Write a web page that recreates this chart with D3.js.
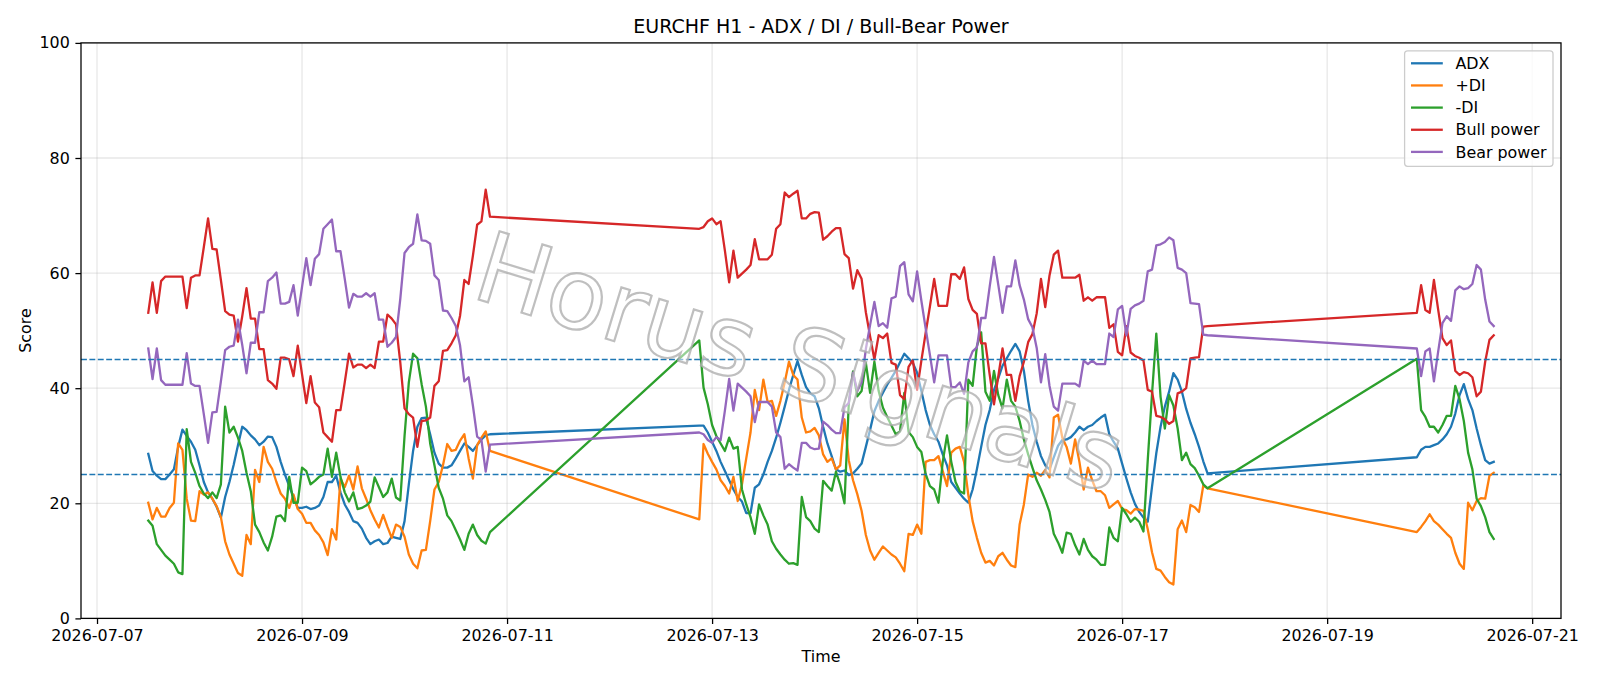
<!DOCTYPE html>
<html>
<head>
<meta charset="utf-8">
<script src="https://cdn.jsdelivr.net/npm/d3@7"></script>
<style>
  body { margin: 0; background: #fff; }
  svg { font-family: "DejaVu Sans", sans-serif; }
</style>
</head>
<body>
<svg id="chart" width="1600" height="686"></svg>
<script>
// EURCHF H1 - ADX / DI / Bull-Bear power, hourly bars in three market sessions

// --- data ---
const segStarts = ["2026-07-07T12:00:00Z", "2026-07-12T21:00:00Z", "2026-07-19T21:00:00Z"];

const adx1 = [28.6,25.6,24.8,24.2,24.2,25.0,25.9,29.8,32.8,31.7,
  30.7,29.3,26.6,23.7,21.9,20.8,19.4,17.5,21.1,23.7,
  26.7,30.1,33.3,32.7,31.8,31.1,30.1,30.7,31.6,31.5,
  29.8,27.2,25.0,23.0,21.1,19.2,19.2,19.4,19.0,19.2,
  19.6,21.1,23.7,23.7,24.8,21.9,19.8,18.5,16.9,16.6,
  15.6,14.0,12.9,13.4,13.7,12.9,13.1,14.2,14.0,13.8,
  16.9,23.3,29.1,33.3,34.8,34.9,32.0,28.8,26.9,26.2,
  26.2,26.6,27.8,29.1,30.4,29.8,29.1,30.1,31.1,31.8,
  32.0];
const adx2 = [33.5,33.5,32.3,30.7,29.1,27.2,25.6,24.0,22.4,21.1,
  20.3,18.3,18.3,22.7,23.3,25.0,27.2,29.1,31.4,34.0,
  36.8,39.7,42.3,44.7,42.3,40.2,39.1,38.6,36.5,33.3,
  30.4,28.2,25.9,25.5,25.7,24.9,25.2,26.0,26.9,29.8,
  32.8,36.0,37.8,39.2,40.6,41.8,43.0,44.5,46.0,45.2,
  44.4,42.7,39.5,36.2,33.6,32.0,30.7,28.5,26.6,23.7,
  22.7,21.7,20.8,20.1,22.4,25.9,29.8,33.6,36.2,39.7,
  41.7,43.9,45.2,46.5,47.7,46.4,43.0,37.8,33.6,30.7,
  28.2,26.6,25.9,28.0,30.0,31.0,31.1,31.5,32.3,33.3,
  32.7,33.3,33.6,34.3,34.9,35.4,32.0,30.7,29.5,26.9,
  24.3,21.9,19.9,18.5,17.5,16.8,22.9,28.7,33.3,36.8,
  39.4,42.6,41.5,39.4,36.4,34.0,32.0,29.8,27.3,25.2];
const adx3 = [28.0,29.3,29.8,29.8,30.1,30.4,31.1,32.0,33.3,35.6,
  38.8,40.7,38.1,36.2,33.0,30.1,27.5,26.9,27.2];

const pdi1 = [20.1,17.2,19.2,17.7,17.7,19.2,20.1,30.4,29.3,20.8,
  17.0,16.9,22.1,21.5,21.9,20.8,19.5,17.6,13.4,11.1,
  9.5,7.9,7.4,14.5,12.9,25.8,23.7,29.8,27.2,26.0,
  23.7,21.7,20.8,19.2,21.5,19.0,18.2,16.6,16.6,15.3,
  14.5,13.2,11.0,15.5,13.7,24.3,22.8,24.8,22.4,26.4,
  22.6,20.8,18.8,17.2,15.8,18.0,15.9,14.0,16.3,15.9,
  14.2,11.1,9.5,8.7,11.8,11.9,16.9,22.4,23.7,26.6,
  30.3,29.1,29.3,30.9,32.0,27.8,24.3,30.1,31.4,32.5,
  29.1];
const pdi2 = [17.2,30.3,28.6,27.2,25.9,24.0,23.0,21.7,24.6,20.4,
  23.3,27.8,32.3,39.7,36.2,41.5,37.6,37.8,35.2,37.8,
  41.0,44.6,42.3,41.5,34.9,32.3,32.5,33.1,31.8,28.5,
  27.2,27.8,25.9,26.6,34.6,27.5,24.0,21.6,18.7,14.5,
  11.8,10.2,11.4,12.5,11.8,11.1,10.6,9.5,8.2,14.7,
  14.5,16.3,14.7,27.2,27.5,27.5,28.2,25.6,23.0,28.8,
  29.5,29.8,27.2,21.4,16.9,14.0,11.4,9.7,10.0,9.2,
  10.8,11.4,10.2,9.2,8.9,16.3,19.8,25.0,24.6,25.3,
  24.8,25.8,24.5,34.9,35.4,31.4,29.8,26.9,31.1,27.2,
  22.4,26.2,24.0,22.1,22.1,21.4,19.2,19.8,20.4,19.0,
  18.8,18.2,19.0,18.9,18.7,15.5,11.5,8.6,8.3,7.2,
  6.3,5.9,15.5,17.0,15.0,19.7,19.3,18.5,23.1,22.6];
const pdi3 = [15.0,15.9,16.9,18.1,16.9,16.3,15.5,14.7,14.0,11.4,
  9.5,8.6,20.1,18.8,20.4,20.9,20.8,24.8,25.3];

const mdi1 = [17.0,16.1,12.9,11.9,10.9,10.2,9.5,8.0,7.7,32.9,
  27.2,25.3,23.0,21.7,20.9,21.9,20.9,23.3,36.8,32.3,
  33.3,31.4,29.1,25.3,22.1,16.3,15.0,13.2,11.8,14.2,
  17.7,17.9,16.9,24.6,20.1,20.1,26.2,25.6,23.3,23.9,
  24.6,25.0,29.5,24.6,28.8,24.6,21.9,20.3,21.9,19.0,
  19.2,19.6,20.3,24.5,22.8,21.1,21.9,24.3,21.0,20.5,
  31.7,41.0,46.0,45.2,40.7,36.8,30.4,26.6,22.7,20.8,
  17.9,16.9,15.3,13.7,11.9,14.7,16.3,14.5,13.5,13.0,
  15.0];
const mdi2 = [48.3,40.1,37.2,33.6,31.7,30.4,29.1,31.4,29.5,29.8,
  22.4,19.8,17.6,14.7,19.8,17.9,16.3,13.4,12.1,11.1,
  10.2,9.5,9.6,9.3,21.1,17.6,16.9,15.6,15.0,23.9,
  23.0,22.2,25.5,23.2,20.0,37.3,42.9,38.6,39.5,44.4,
  39.2,44.6,39.5,36.6,35.0,33.5,32.0,32.5,39.2,32.4,
  31.5,29.8,28.9,25.1,23.0,22.4,20.1,27.2,31.8,27.2,
  23.7,22.1,21.7,41.5,40.4,47.3,49.7,39.4,37.8,43.0,
  38.8,36.5,41.5,37.8,36.8,34.3,31.1,28.5,26.2,24.0,
  22.4,20.6,18.5,14.7,13.2,11.4,14.9,14.7,12.7,11.1,
  13.8,11.9,10.8,10.2,9.3,9.3,15.8,14.0,13.4,19.2,
  18.1,16.8,17.5,16.8,15.1,27.5,39.0,49.5,38.5,33.0,
  38.8,37.0,33.0,27.5,28.8,26.8,26.1,24.8,23.3,22.6];
const mdi3 = [45.1,36.2,35.0,33.3,33.3,32.3,33.6,35.2,35.2,40.4,
  38.1,34.3,28.8,25.9,20.8,19.5,17.6,15.0,13.8];

const bull1 = [53.1,58.4,53.1,58.6,59.4,59.4,59.4,59.4,59.4,53.9,
  59.2,59.6,59.6,64.5,69.5,64.2,64.1,58.8,53.4,52.8,
  52.6,48.1,52.5,57.4,52.1,52.1,46.8,46.8,41.4,40.8,
  39.9,45.3,45.3,45.0,42.1,47.4,42.4,37.4,42.1,37.5,
  36.7,32.3,31.5,30.7,36.2,36.2,41.0,46.0,43.6,44.1,
  44.1,43.5,44.1,43.5,48.1,48.1,52.8,52.1,51.1,44.5,
  36.5,35.5,34.9,29.8,34.3,34.4,34.9,40.4,41.2,46.5,
  46.6,47.8,49.2,52.6,58.8,58.1,63.0,68.4,69.0,74.5,
  69.8];
const bull2 = [67.7,68.0,69.0,69.5,68.5,69.0,63.9,58.4,63.9,59.2,
  59.9,60.6,61.4,65.9,62.4,62.4,62.4,63.2,67.7,68.5,
  74.0,73.2,73.8,74.3,69.5,69.5,70.3,70.6,70.5,65.8,
  66.4,67.2,67.8,67.8,63.3,62.6,57.3,60.5,59.0,53.2,
  49.0,45.0,49.2,48.7,49.5,44.4,44.1,38.8,38.1,43.7,
  44.9,39.7,44.8,49.6,54.2,59.0,54.3,54.3,54.3,59.8,
  59.8,59.0,61.0,55.5,53.6,52.9,47.8,47.8,42.3,37.2,
  42.0,46.9,42.3,42.3,37.8,42.1,44.6,48.0,49.4,53.0,
  59.0,54.1,59.6,63.2,63.9,59.2,59.2,59.2,59.2,59.7,
  55.2,55.8,55.2,55.8,55.8,55.8,50.5,51.1,46.3,45.7,
  50.8,46.2,45.6,45.3,44.8,39.7,39.4,35.2,35.0,34.6,
  33.8,34.3,39.1,39.4,40.0,45.2,45.3,45.4,50.7,50.8];
const bull3 = [53.1,57.9,53.6,53.1,58.8,53.6,48.7,47.5,48.3,43.0,
  42.3,42.8,42.6,41.9,38.6,39.4,44.6,48.4,49.2];

const bear1 = [46.9,41.6,46.9,41.4,40.6,40.6,40.6,40.6,40.6,46.1,
  40.8,40.4,40.4,35.5,30.5,35.8,35.9,41.2,46.6,47.2,
  47.4,51.9,47.5,42.6,47.9,47.9,53.2,53.2,58.6,59.2,
  60.1,54.7,54.7,55.0,57.9,52.6,57.6,62.6,57.9,62.5,
  63.3,67.7,68.5,69.3,63.8,63.8,59.0,54.0,56.4,55.9,
  55.9,56.5,55.9,56.5,51.9,51.9,47.2,47.9,48.9,55.5,
  63.5,64.5,65.1,70.2,65.7,65.6,65.1,59.6,58.8,53.5,
  53.4,52.2,50.8,47.4,41.2,41.9,37.0,31.6,31.0,25.5,
  30.2];
const bear2 = [32.3,32.0,31.0,30.5,31.5,31.0,36.1,41.6,36.1,40.8,
  40.1,39.4,38.6,34.1,37.6,37.6,37.6,36.8,32.3,31.5,
  26.0,26.8,26.2,25.7,30.5,30.5,29.7,29.4,29.5,34.2,
  33.6,32.8,32.2,32.2,36.7,37.4,42.7,39.5,41.0,46.8,
  51.0,55.0,50.8,51.3,50.5,55.6,55.9,61.2,61.9,56.3,
  55.1,60.3,55.2,50.4,45.8,41.0,45.7,45.7,45.7,40.2,
  40.2,41.0,39.0,44.5,46.4,47.1,52.2,52.2,57.7,62.8,
  58.0,53.1,57.7,57.7,62.2,57.9,55.4,52.0,50.6,47.0,
  41.0,45.9,40.4,36.8,36.1,40.8,40.8,40.8,40.8,40.3,
  44.8,44.2,44.8,44.2,44.2,44.2,49.5,48.9,53.7,54.3,
  49.2,53.8,54.4,54.7,55.2,60.3,60.6,64.8,65.0,65.4,
  66.2,65.7,60.9,60.6,60.0,54.8,54.7,54.6,49.3,49.2];
const bear3 = [46.9,42.1,46.4,46.9,41.2,46.4,51.3,52.5,51.7,57.0,
  57.7,57.2,57.4,58.1,61.4,60.6,55.4,51.6,50.8];

const seriesNames = ["ADX", "+DI", "-DI", "Bull power", "Bear power"];
const seriesColors = ["#1f77b4", "#ff7f0e", "#2ca02c", "#d62728", "#9467bd"];
const levels = [25, 45];
const yTicks = [0, 20, 40, 60, 80, 100];
const xTickDates = ["2026-07-07", "2026-07-09", "2026-07-11", "2026-07-13",
  "2026-07-15", "2026-07-17", "2026-07-19", "2026-07-21"];

// --- build time axis from session starts (one bar per hour) ---
function hours(start, n) {
  const t0 = new Date(start).getTime();
  return d3.range(n).map(k => new Date(t0 + k * 3600e3));
}
const times = [].concat(
  hours(segStarts[0], adx1.length),
  hours(segStarts[1], adx2.length),
  hours(segStarts[2], adx3.length)
);
const allSeries = [
  adx1.concat(adx2, adx3),
  pdi1.concat(pdi2, pdi3),
  mdi1.concat(mdi2, mdi3),
  bull1.concat(bull2, bull3),
  bear1.concat(bear2, bear3)
];

// --- layout ---
const svg = d3.select("#chart");
const plot = {left: 81, right: 1561, top: 42.9, bottom: 618.4};

const tExt = d3.extent(times);
const pad = (tExt[1] - tExt[0]) * 0.05;
const x = d3.scaleUtc()
  .domain([new Date(+tExt[0] - pad), new Date(+tExt[1] + pad)])
  .range([plot.left, plot.right]);
const y = d3.scaleLinear().domain([0, 100]).range([plot.bottom, plot.top]);
const xTicks = xTickDates.map(s => new Date(s + "T00:00:00Z"));

// grid
const grid = svg.append("g");
grid.selectAll(".gx").data(xTicks).enter().append("line")
  .attr("x1", d => x(d)).attr("x2", d => x(d))
  .attr("y1", plot.top).attr("y2", plot.bottom)
  .attr("stroke", "#b0b0b0").attr("stroke-opacity", 0.3).attr("stroke-width", 1.27);
grid.selectAll(".gy").data(yTicks).enter().append("line")
  .attr("x1", plot.left).attr("x2", plot.right)
  .attr("y1", d => y(d)).attr("y2", d => y(d))
  .attr("stroke", "#b0b0b0").attr("stroke-opacity", 0.3).attr("stroke-width", 1.27);

// clip for the data
svg.append("clipPath").attr("id", "clip").append("rect")
  .attr("x", plot.left).attr("y", plot.top)
  .attr("width", plot.right - plot.left).attr("height", plot.bottom - plot.top);

const line = d3.line().x((d, i) => x(times[i])).y(d => y(d));
const lines = svg.append("g").attr("clip-path", "url(#clip)");
allSeries.forEach((vals, si) => {
  lines.append("path")
    .datum(vals)
    .attr("fill", "none")
    .attr("stroke", seriesColors[si])
    .attr("stroke-width", 2.3)
    .attr("stroke-linejoin", "round")
    .attr("stroke-linecap", "square")
    .attr("d", line);
});

// reference levels
lines.selectAll(".lvl").data(levels).enter().append("line")
  .attr("x1", plot.left).attr("x2", plot.right)
  .attr("y1", d => y(d)).attr("y2", d => y(d))
  .attr("stroke", "#1f77b4").attr("stroke-width", 1.6)
  .attr("stroke-dasharray", "5.9,2.5");

// watermark (hollow grey letters running down to the right)
svg.append("text")
  .attr("transform", "translate(800,362) rotate(17)")
  .attr("text-anchor", "middle")
  .attr("dy", "0.35em")
  .attr("font-size", 98)
  .attr("fill", "#ffffff").attr("fill-opacity", 0.5)
  .attr("stroke", "#aaaaaa").attr("stroke-opacity", 0.75).attr("stroke-width", 2.2)
  .text("Horus Signals");

// axes
const fs = "15.9px";
const gx = svg.append("g").attr("transform", `translate(0,${plot.bottom})`)
  .call(d3.axisBottom(x).tickValues(xTicks).tickFormat(d3.utcFormat("%Y-%m-%d"))
    .tickSize(5.6).tickPadding(5.6).tickSizeOuter(0));
const gy = svg.append("g").attr("transform", `translate(${plot.left},0)`)
  .call(d3.axisLeft(y).tickValues(yTicks).tickSize(5.6).tickPadding(5.6).tickSizeOuter(0));
[gx, gy].forEach(g => {
  g.select(".domain").remove();
  g.selectAll(".tick line").attr("stroke", "#000").attr("stroke-width", 1.27);
  g.selectAll(".tick text").attr("fill", "#000")
    .style("font-size", fs).style("font-family", "DejaVu Sans");
});

// spines
svg.append("rect")
  .attr("x", plot.left).attr("y", plot.top)
  .attr("width", plot.right - plot.left).attr("height", plot.bottom - plot.top)
  .attr("fill", "none").attr("stroke", "#000").attr("stroke-width", 1.27);

// labels
const midX = (plot.left + plot.right) / 2;
svg.append("text").attr("x", midX).attr("y", 33.4)
  .attr("text-anchor", "middle").style("font-size", "19px")
  .text("EURCHF H1 - ADX / DI / Bull-Bear Power");
svg.append("text").attr("x", midX).attr("y", 662)
  .attr("text-anchor", "middle").style("font-size", fs).text("Time");
svg.append("text").attr("transform", "translate(31,330.6) rotate(-90)")
  .attr("text-anchor", "middle").style("font-size", fs).text("Score");

// legend
const leg = svg.append("g");
leg.append("rect")
  .attr("x", 1404.6).attr("y", 50.8).attr("width", 148.4).attr("height", 115.5)
  .attr("rx", 3).attr("fill", "#fff").attr("fill-opacity", 0.8)
  .attr("stroke", "#cccccc").attr("stroke-width", 1.27);
seriesNames.forEach((name, i) => {
  const cy = 63.3 + i * 22.15;
  leg.append("line").attr("x1", 1411).attr("x2", 1442.8)
    .attr("y1", cy).attr("y2", cy)
    .attr("stroke", seriesColors[i]).attr("stroke-width", 2.3);
  leg.append("text").attr("x", 1455.5).attr("y", cy).attr("dy", "0.36em")
    .style("font-size", fs).text(name);
});
</script>
</body>
</html>
